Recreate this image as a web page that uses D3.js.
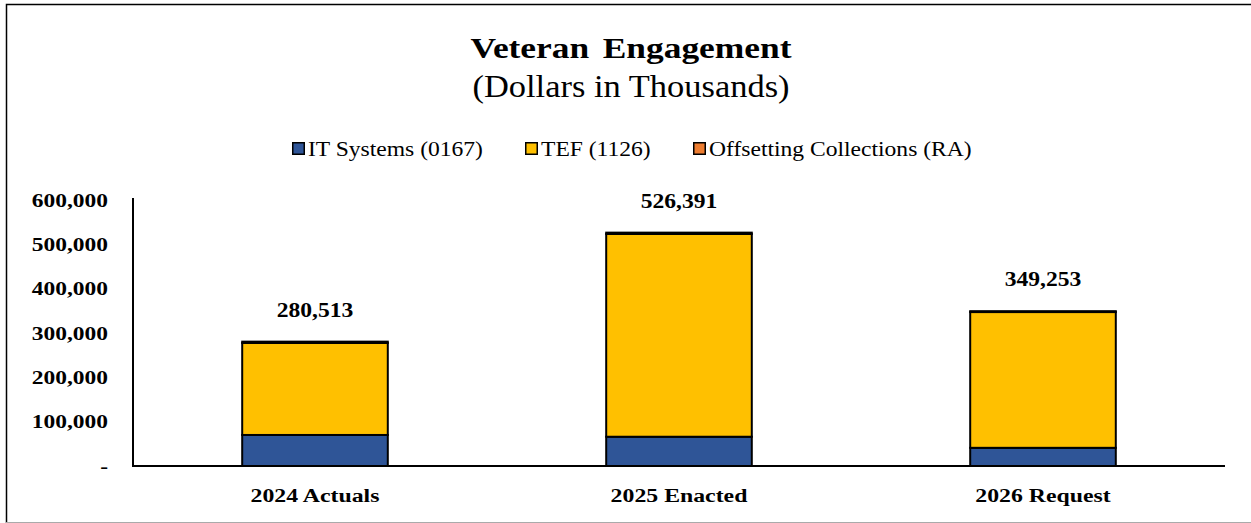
<!DOCTYPE html>
<html>
<head>
<meta charset="utf-8">
<script src="https://cdn.jsdelivr.net/npm/d3@7"></script>
<style>
  html, body { margin: 0; padding: 0; background: #fff; }
  svg { display: block; }
  text { font-family: "Liberation Serif", "Times New Roman", serif; fill: #000; }
</style>
</head>
<body>
<svg id="chart" width="1251" height="523"></svg>
<script>
// Budget categories and stacked funding sources (dollars in thousands)
const categories = ["2024 Actuals", "2025 Enacted", "2026 Request"];
const itSystems = [70000, 66000, 41000];
const tef = [207513, 457391, 306253];
const offsetting = [3000, 3000, 2000];
const totals = [280513, 526391, 349253];
const seriesNames = ["IT Systems (0167)", "TEF (1126)", "Offsetting Collections (RA)"];
const seriesColors = ["#2F5597", "#FFC000", "#ED7D31"];
const yTicks = [0, 100000, 200000, 300000, 400000, 500000, 600000];

const svg = d3.select("#chart");

// Text in this chart is drawn slightly widened horizontally
const place = (sel, x, y, sx) => sel.attr("x", 0).attr("y", 0)
  .attr("transform", `translate(${x},${y}) scale(${sx},1)`);

// Chart frame
svg.append("path")
  .attr("d", "M6.5,523 V4.5 H1251")
  .attr("fill", "none").attr("stroke", "#000").attr("stroke-width", 1.5);
svg.append("line")
  .attr("x1", 6).attr("x2", 1251).attr("y1", 522.5).attr("y2", 522.5)
  .attr("stroke", "#aaa").attr("stroke-width", 1);

// Title
place(svg.append("text"), 631, 57.5, 1.18)
  .attr("text-anchor", "middle")
  .style("font-size", "30px").style("font-weight", "bold")
  .style("word-spacing", "4px")
  .text("Veteran Engagement");
place(svg.append("text"), 631, 97, 1.13)
  .attr("text-anchor", "middle")
  .style("font-size", "30.5px")
  .text("(Dollars in Thousands)");

const plot = { left: 133, right: 1225, top: 200, bottom: 466 };

const x = d3.scaleBand().domain(categories).range([plot.left, plot.right]).padding(0);
const barW = x.bandwidth() * 0.4;
const y = d3.scaleLinear().domain([0, 600000]).range([plot.bottom, plot.top]);

// Stacked bars
const rows = categories.map((c, i) => ({ cat: c, s0: itSystems[i], s1: tef[i], s2: offsetting[i] }));
const stack = d3.stack().keys(["s0", "s1", "s2"])(rows);

svg.append("g").selectAll("g")
  .data(stack)
  .join("g")
  .attr("fill", (d, i) => seriesColors[i])
  .selectAll("rect")
  .data(d => d)
  .join("rect")
  .attr("x", d => x(d.data.cat) + (x.bandwidth() - barW) / 2)
  .attr("y", d => y(d[1]))
  .attr("width", barW)
  .attr("height", d => y(d[0]) - y(d[1]))
  .attr("stroke", "#000")
  .attr("stroke-width", 2);

// Y axis labels
const yAxis = d3.axisLeft(y).tickValues(yTicks).tickSize(0).tickPadding(25)
  .tickFormat(v => v === 0 ? "-" : d3.format(",")(v));
const gy = svg.append("g").attr("transform", `translate(${plot.left},0)`).call(yAxis);
gy.select(".domain").remove();
gy.selectAll("text")
  .attr("x", 0).attr("dy", "0.34em")
  .attr("transform", "translate(-25,0) scale(1.27,1)")
  .style("font-family", "'Liberation Serif', serif")
  .style("font-size", "18.5px").style("font-weight", "bold");

svg.append("line")
  .attr("x1", plot.left).attr("x2", plot.left)
  .attr("y1", plot.top - 2).attr("y2", plot.bottom)
  .attr("stroke", "#000").attr("stroke-width", 2);

// X axis labels
const xAxis = d3.axisBottom(x).tickSize(0);
const gx = svg.append("g").attr("transform", `translate(0,${plot.bottom})`).call(xAxis);
gx.select(".domain").remove();
gx.selectAll("text")
  .attr("y", 0).attr("dy", 0)
  .attr("transform", "translate(0,36) scale(1.22,1)")
  .style("font-family", "'Liberation Serif', serif")
  .style("font-size", "19.5px").style("font-weight", "bold");

svg.append("line")
  .attr("x1", plot.left - 1).attr("x2", plot.right)
  .attr("y1", plot.bottom).attr("y2", plot.bottom)
  .attr("stroke", "#000").attr("stroke-width", 2);

// Total labels above each bar
svg.append("g").selectAll("text")
  .data(categories)
  .join("text")
  .each(function (c, i) {
    place(d3.select(this), x(c) + x.bandwidth() / 2, y(totals[i]) - 25, 1.15);
  })
  .attr("text-anchor", "middle")
  .style("font-size", "20.5px").style("font-weight", "bold")
  .text((c, i) => d3.format(",")(totals[i]));

// Legend
const legendX = [292, 525, 693];
const legend = svg.append("g").selectAll("g")
  .data(seriesNames)
  .join("g")
  .attr("transform", (d, i) => `translate(${legendX[i]},0)`);
legend.append("rect")
  .attr("x", 0.75).attr("y", 142.75)
  .attr("width", 11.5).attr("height", 11.5)
  .attr("fill", (d, i) => seriesColors[i])
  .attr("stroke", "#000").attr("stroke-width", 1.5);
legend.append("text")
  .each(function () { place(d3.select(this), 16, 156, 1.15); })
  .style("font-size", "20.5px")
  .text(d => d);
</script>
</body>
</html>
